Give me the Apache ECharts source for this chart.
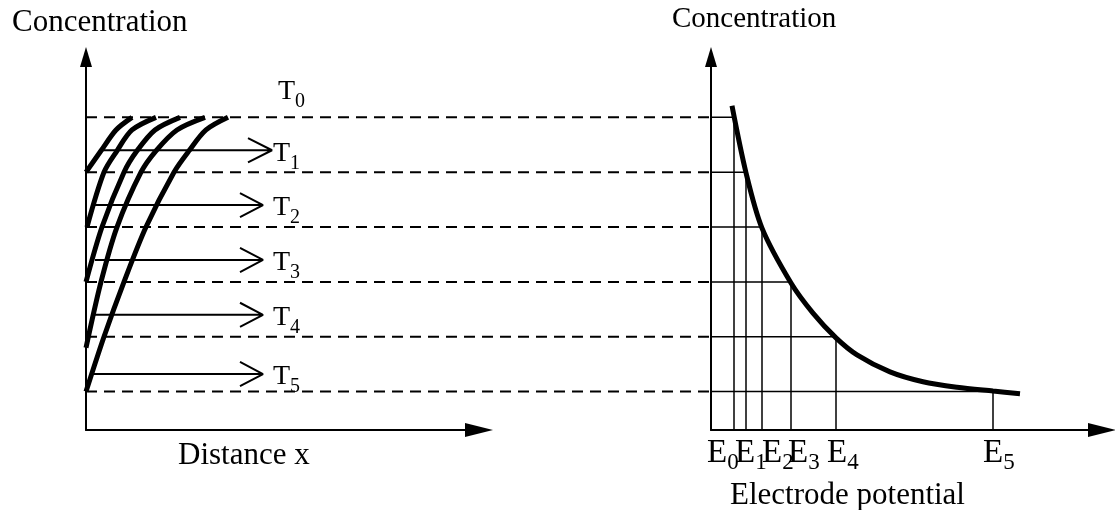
<!DOCTYPE html>
<html><head><meta charset="utf-8">
<script src="https://cdn.jsdelivr.net/npm/echarts@6/dist/echarts.min.js"></script>
<style>html,body{margin:0;padding:0;background:#fff}#c{width:1115px;height:510px}</style>
</head><body><div id="c"></div>
<script>
// ---- data ----
const levels = [5.7, 4.7, 3.7, 2.7, 1.7, 0.7];          // concentration levels at T0..T5
const timeSubs = ['0', '1', '2', '3', '4', '5'];
const arrowY = [5.1, 4.1, 3.1, 2.1, 1.02];              // time arrows T1..T5
const arrowStart = [1.4, 0.9, 0.9, 0.9, 0.7];
const arrowTip = [18.6, 17.7, 17.7, 17.7, 17.7];
const profile1 = [[0, 4.7], [1.5, 5.09], [3.0, 5.47], [4.6, 5.7]];
const profile2 = [[0.1, 3.7], [1.8, 4.7], [3.1, 5.09], [4.6, 5.47], [7.0, 5.7]];
const profile3 = [[0, 2.7], [1.6, 3.7], [3.8, 4.7], [5.1, 5.09], [6.9, 5.47], [9.4, 5.7]];
const profile4 = [[0, 1.5], [1.5, 2.7], [3.1, 3.7], [5.5, 4.7], [7.0, 5.09], [9.1, 5.47], [11.9, 5.7]];
const profile5 = [[0, 0.7], [1.8, 1.7], [3.8, 2.7], [6.0, 3.7], [8.8, 4.7], [10.3, 5.09], [12.0, 5.47], [14.2, 5.7]];
const profiles = [profile1, profile2, profile3, profile4, profile5];
const potentialE = [2.3, 3.5, 5.1, 8.0, 12.5, 28.2];    // E0..E5
const polarCurve = [[2.1, 5.91], [3.5, 4.69], [5.1, 3.68], [8.0, 2.68], [10.2, 2.13], [12.5, 1.68], [14.6, 1.37], [17.9, 1.06], [21.2, 0.88], [24.6, 0.78], [28.2, 0.71], [30.9, 0.66]];

// ---- styles ----
const FONT = "'Liberation Serif', 'Times New Roman', serif";
const BLACK = '#000';
const chevronBack = [2.4, 2.3, 2.3, 2.3, 2.3];
const chevronHalf = 0.22;
const eLabelShift = [-27, -11, 0, -3, -9, -10];
const tLabelShift = [1, 10, 10, 10, 10];

const chart = echarts.init(document.getElementById('c'));
const axisLine = (arrowSize) => ({ show: true, symbol: ['none', 'triangle'], symbolSize: arrowSize, lineStyle: { color: BLACK, width: 2 } });
const plainAxis = (extra) => Object.assign({ axisTick: { show: false }, axisLabel: { show: false }, splitLine: { show: false } }, extra);

const series = [];
// dashed level lines across both panels
levels.forEach((lv) => series.push({
  type: 'line', xAxisIndex: 2, yAxisIndex: 2, data: [[0, lv], [1, lv]], showSymbol: false, silent: true,
  lineStyle: { color: BLACK, width: 2, type: [11, 7] }, z: 1
}));
// time arrows
arrowY.forEach((y, i) => {
  const b = arrowTip[i] - chevronBack[i];
  series.push({
    type: 'line', xAxisIndex: 0, yAxisIndex: 0, showSymbol: false, silent: true,
    data: [[arrowStart[i], y], [arrowTip[i], y], [b, y + chevronHalf], [arrowTip[i], y], [b, y - chevronHalf]],
    lineStyle: { color: BLACK, width: 2 }, z: 2
  });
});
// concentration profiles
profiles.forEach((p) => series.push({
  type: 'line', xAxisIndex: 0, yAxisIndex: 0, data: p, smooth: 0.3, showSymbol: false, silent: true,
  lineStyle: { color: BLACK, width: 5 }, z: 3
}));
const labelRich = (big, small, pad) => ({
  m: { fontFamily: FONT, fontSize: big, color: BLACK, lineHeight: big, verticalAlign: 'top' },
  s: { fontFamily: FONT, fontSize: small, color: BLACK, lineHeight: small, padding: [pad, 0, 0, 0], verticalAlign: 'top' }
});
// T labels
series.push({
  type: 'scatter', xAxisIndex: 0, yAxisIndex: 0, symbolSize: 0, silent: true, itemStyle: { opacity: 1 },
  data: [{ value: [arrowTip[0], levels[0]], label: { offset: [6, -26] } }].concat(
    arrowY.map((y, i) => ({ value: [arrowTip[i], y], label: { offset: [tLabelShift[i], 3] } }))),
  label: {
    show: true, position: 'right', distance: 0, color: BLACK, opacity: 1,
    formatter: (p) => '{m|T}{s|' + timeSubs[p.dataIndex] + '}',
    rich: labelRich(28, 20, 14)
  }
});
// right panel: guide lines (horizontal to curve, then down to axis)
levels.forEach((lv, i) => series.push({
  type: 'line', xAxisIndex: 1, yAxisIndex: 1, showSymbol: false, silent: true,
  data: [[0, lv], [potentialE[i], lv], [potentialE[i], 0]],
  lineStyle: { color: BLACK, width: 1.5 }, z: 2
}));
// polarisation curve
series.push({
  type: 'line', xAxisIndex: 1, yAxisIndex: 1, data: polarCurve, smooth: 0.3, showSymbol: false, silent: true,
  lineStyle: { color: BLACK, width: 5 }, z: 3
});
// E labels
series.push({
  type: 'scatter', xAxisIndex: 1, yAxisIndex: 1, symbolSize: 0, silent: true, itemStyle: { opacity: 1 },
  data: potentialE.map((e, i) => ({ value: [e, 0], label: { offset: [eLabelShift[i], 0] } })),
  label: {
    show: true, position: 'bottom', distance: 7, align: 'left', color: BLACK, opacity: 1,
    formatter: (p) => '{m|E}{s|' + timeSubs[p.dataIndex] + '}',
    rich: labelRich(33, 23, 14)
  }
});

const titleStyle = (fs) => ({ fontFamily: FONT, fontSize: fs, fontWeight: 'normal', color: BLACK });
chart.setOption({
  animation: false,
  backgroundColor: '#fff',
  title: [
    { text: 'Concentration', left: 12, top: 7, padding: 0, textStyle: titleStyle(31) },
    { text: 'Concentration', left: 672, top: 5, padding: 0, textStyle: titleStyle(29) },
    { text: 'Distance x', left: 178, top: 440, padding: 0, textStyle: titleStyle(31) },
    { text: 'Electrode potential', left: 730, top: 480, padding: 0, textStyle: titleStyle(31) }
  ],
  grid: [
    { left: 86, top: 57, width: 393, bottom: 80 },
    { left: 711, top: 57, right: 13, bottom: 80 },
    { left: 86, top: 57, width: 625, bottom: 80 }
  ],
  xAxis: [
    plainAxis({ gridIndex: 0, type: 'value', min: 0, max: 39.3, axisLine: axisLine([14, 28]) }),
    plainAxis({ gridIndex: 1, type: 'value', min: 0, max: 39.1, axisLine: axisLine([14, 28]) }),
    plainAxis({ gridIndex: 2, type: 'value', min: 0, max: 1, show: false })
  ],
  yAxis: [
    plainAxis({ gridIndex: 0, type: 'value', min: 0, max: 6.8, axisLine: axisLine([12, 20]) }),
    plainAxis({ gridIndex: 1, type: 'value', min: 0, max: 6.8, axisLine: axisLine([12, 20]) }),
    plainAxis({ gridIndex: 2, type: 'value', min: 0, max: 6.8, show: false })
  ],
  series: series
});
</script></body></html>
